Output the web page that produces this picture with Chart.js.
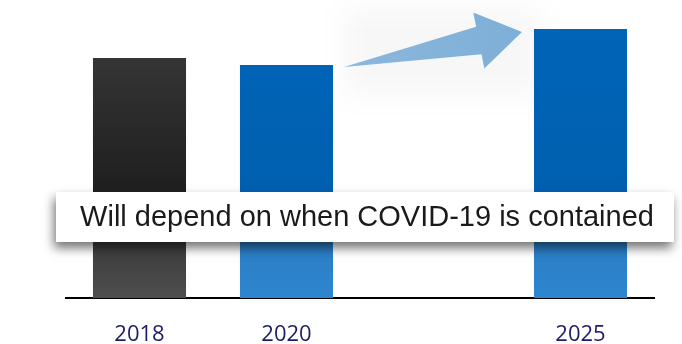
<!DOCTYPE html>
<html>
<head>
<meta charset="utf-8">
<script src="https://cdn.jsdelivr.net/npm/chart.js@4/dist/chart.umd.min.js"></script>
<style>
  html, body { margin: 0; padding: 0; background: #fff; }
  #wrap { width: 682px; height: 344px; position: relative; }
</style>
</head>
<body>
<div id="wrap"><canvas id="myChart" width="682" height="344"></canvas></div>
<script>
// categories (blank slot keeps the gap before 2025)
var years = ['2018', '2020', '', '2025'];
var marketSize = [240, 233, null, 269];
var barKinds = ['actual', 'estimate', null, 'forecast'];
var bannerText = 'Will depend on when COVID-19 is contained';

function barFill(context) {
    var chart = context.chart;
    var area = chart.chartArea;
    if (!area) return '#333';
    var ctx = chart.ctx;
    var g = ctx.createLinearGradient(0, 0, 0, area.bottom);
    if (barKinds[context.dataIndex] === 'actual') {
        g.addColorStop(0.19, '#353535');
        g.addColorStop(0.63, '#1f1f1f');
        g.addColorStop(0.80, '#3a3a3a');
        g.addColorStop(1, '#4e4e4e');
    } else {
        g.addColorStop(0.1, '#0064b7');
        g.addColorStop(0.63, '#0060b0');
        g.addColorStop(0.80, '#2a7dc4');
        g.addColorStop(1, '#2e86d0');
    }
    return g;
}

// arrow between the 2020 and 2025 bars plus the white callout box
var overlay = {
    id: 'overlay',
    beforeDatasetsDraw: function(chart) {
        var ctx = chart.ctx;
        var bars = chart.getDatasetMeta(0).data;
        var b1 = bars[1], b3 = bars[3];
        var left = b1.x + b1.width / 2 + 12;
        var right = b3.x - b3.width / 2 + 6;
        ctx.save();
        ctx.filter = 'blur(14px)';
        ctx.fillStyle = 'rgba(0,0,0,0.03)';
        ctx.fillRect(left, 8, right - left, 88);
        ctx.restore();
    },
    afterDatasetsDraw: function(chart) {
        var ctx = chart.ctx;
        var area = chart.chartArea;
        var bars = chart.getDatasetMeta(0).data;
        var b1 = bars[1], b3 = bars[3];

        var tx = b1.x + b1.width / 2 + 11, ty = b1.y + 2;
        var hx = b3.x - b3.width / 2 - 12, hy = b3.y + 3;
        var len = Math.hypot(hx - tx, hy - ty);
        var ux = (hx - tx) / len, uy = (hy - ty) / len;
        var vx = -uy, vy = ux;
        function pt(a, p) { return [tx + ux * a + vx * p, ty + uy * a + vy * p]; }
        var neck = len - 44;
        var shape = [pt(0, 0), pt(neck, -14), pt(neck, -28.5), pt(len, 0), pt(neck, 28.5), pt(neck, 14)];
        ctx.save();
        ctx.beginPath();
        ctx.moveTo(shape[0][0], shape[0][1]);
        for (var i = 1; i < shape.length; i++) ctx.lineTo(shape[i][0], shape[i][1]);
        ctx.closePath();
        var ag = ctx.createLinearGradient(tx, ty, hx, hy);
        ag.addColorStop(0, '#8bb7dc');
        ag.addColorStop(1, '#7eafd8');
        ctx.fillStyle = ag;
        ctx.fill();
        ctx.restore();

        // callout box
        var bx = area.left - 10, bw = area.right + 20 - bx;
        var by = area.bottom - 106, bh = 50;
        ctx.save();
        ctx.shadowColor = 'rgba(0,0,0,0.55)';
        ctx.shadowBlur = 10;
        ctx.shadowOffsetX = -2;
        ctx.shadowOffsetY = 6;
        ctx.fillStyle = '#ffffff';
        ctx.fillRect(bx, by, bw, bh);
        ctx.restore();

        ctx.save();
        ctx.fillStyle = '#1a1a1a';
        ctx.font = '29px "Liberation Sans", Arial, sans-serif';
        ctx.textAlign = 'center';
        ctx.textBaseline = 'alphabetic';
        ctx.fillText(bannerText, bx + bw / 2 + 2, by + 34);
        ctx.restore();
    }
};

var chart = new Chart(document.getElementById('myChart').getContext('2d'), {
    type: 'bar',
    data: {
        labels: years,
        datasets: [{
            data: marketSize,
            backgroundColor: barFill,
            borderWidth: 0,
            categoryPercentage: 1,
            barPercentage: 0.633
        }]
    },
    options: {
        responsive: false,
        animation: false,
        events: [],
        layout: { padding: { left: 66, right: 28, top: 0, bottom: 1 } },
        plugins: { legend: { display: false }, tooltip: { enabled: false } },
        scales: {
            x: {
                grid: { display: false, drawTicks: false },
                border: { display: true, color: '#000', width: 2 },
                ticks: {
                    color: '#1d1d6b',
                    padding: 26,
                    font: { family: '"Open Sans", sans-serif', size: 22, lineHeight: 1 }
                },
                afterFit: function(scale) { scale.height = 45; }
            },
            y: {
                display: false,
                min: 0,
                max: 298
            }
        }
    },
    plugins: [overlay]
});
</script>
</body>
</html>
